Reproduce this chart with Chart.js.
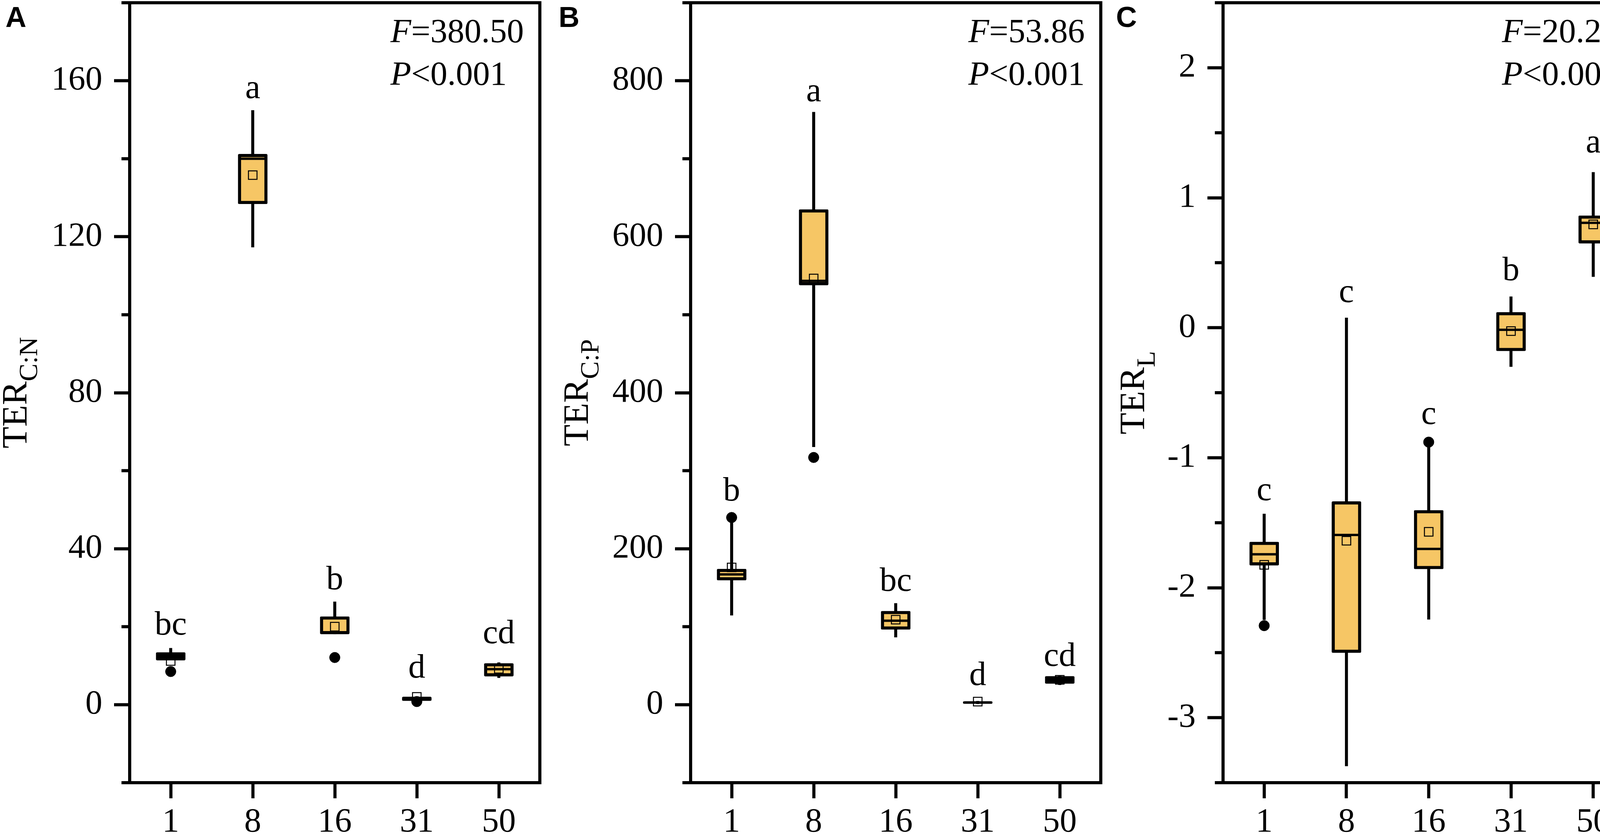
<!DOCTYPE html>
<html>
<head>
<meta charset="utf-8">
<script src="https://cdn.jsdelivr.net/npm/chart.js@4.4.1/dist/chart.umd.min.js"></script>
<style>
  html, body { margin: 0; padding: 0; background: #ffffff; }
  #wrap { position: relative; width: 4191px; height: 2142px; background: #ffffff; overflow: hidden; }
  #wrap canvas { position: absolute; top: 0; }
</style>
</head>
<body>
<div id="wrap">
  <canvas id="cA" width="1400" height="2142" style="left:0px"></canvas>
  <canvas id="cB" width="1430" height="2142" style="left:1400px"></canvas>
  <canvas id="cC" width="1361" height="2142" style="left:2830px"></canvas>
</div>
<script>
// ---------------- data ----------------
const categories = ['1', '8', '16', '31', '50'];

// Panel A : TER C:N
const cnMin     = [11.4, 117.3, 18.1, 1.0, 6.9];
const cnQ1      = [11.4, 128.4, 18.1, 1.0, 7.3];
const cnMedian  = [12.4, 140.0, 18.5, 1.5, 9.1];
const cnQ3      = [13.4, 141.2, 22.6, 2.0, 10.6];
const cnMax     = [14.5, 152.4, 26.4, 2.1, 10.8];
const cnMean    = [11.2, 135.8, 20.0, 2.0, 9.2];
const cnOutlier = [8.5, null, 12.1, 0.8, null];
const cnLetters = ['bc', 'a', 'b', 'd', 'cd'];
const cnLetterY = [18.0, 155.6, 29.6, 7.0, 15.8];
const cnTicks   = [0, 40, 80, 120, 160];
const cnMinor   = [-20, 20, 60, 100, 140, 180];
const cnStats   = ['=380.50', '<0.001'];

// Panel B : TER C:P
const cpMin     = [114.6, 330.5, 86.5, 1.0, 25.4];
const cpQ1      = [159.6, 537.9, 96.4, 1.3, 27.0];
const cpMedian  = [167.0, 543.4, 107.7, 2.8, 31.5];
const cpQ3      = [174.0, 634.9, 120.0, 4.3, 36.5];
const cpMax     = [236.0, 759.8, 130.0, 4.6, 37.5];
const cpMean    = [176.0, 546.5, 109.0, 4.0, 31.9];
const cpOutlier = [240.0, 317.0, null, null, null];
const cpLetters = ['b', 'a', 'bc', 'd', 'cd'];
const cpLetterY = [261.6, 773.8, 146.0, 25.2, 50.0];
const cpTicks   = [0, 200, 400, 600, 800];
const cpMinor   = [-100, 100, 300, 500, 700, 900];
const cpStats   = ['=53.86', '<0.001'];

// Panel C : TER L
const lMin      = [-2.247, -3.372, -2.244, -0.300, 0.392];
const lQ1       = [-1.828, -2.500, -1.856, -0.179, 0.649];
const lMedian   = [-1.743, -1.594, -1.702, -0.016, 0.807];
const lQ3       = [-1.648, -1.337, -1.404, 0.119, 0.862];
const lMax      = [-1.432, 0.076, -0.917, 0.239, 1.196];
const lMean     = [-1.824, -1.639, -1.570, -0.026, 0.795];
const lOutlier  = [-2.292, null, -0.880, null, null];
const lLetters  = ['c', 'c', 'c', 'b', 'a'];
const lLetterY  = [-1.326, 0.197, -0.739, 0.365, 1.348];
const lTicks    = [-3, -2, -1, 0, 1, 2];
const lMinor    = [-3.5, -2.5, -1.5, -0.5, 0.5, 1.5, 2.5];
const lStats    = ['=20.28', '<0.001'];

// ---------------- style ----------------
const FILL = '#F6C665';
const SERIF = '"Liberation Serif", "Times New Roman", serif';
const FS = 87;
const LW = 8;

function panelPlugin(p) {
  return {
    id: 'panelDeco' + p.letter,
    afterDraw(chart) {
      const ctx = chart.ctx;
      const a = chart.chartArea;
      const x = chart.scales.x, y = chart.scales.y;
      ctx.save();
      // frame
      ctx.strokeStyle = '#000';
      ctx.lineWidth = LW;
      ctx.strokeRect(a.left, a.top, a.right - a.left, a.bottom - a.top);
      // minor ticks
      ctx.beginPath();
      p.minor.forEach(v => {
        const py = y.getPixelForValue(v);
        ctx.moveTo(a.left - 21, py);
        ctx.lineTo(a.left, py);
      });
      ctx.stroke();
      // significance letters
      ctx.fillStyle = '#000';
      ctx.font = FS + 'px ' + SERIF;
      ctx.textAlign = 'center';
      ctx.textBaseline = 'alphabetic';
      p.letters.forEach((t, i) => {
        ctx.fillText(t, x.getPixelForValue(i), y.getPixelForValue(p.letterY[i]));
      });
      // F / P statistics
      ctx.textAlign = 'left';
      const itFont = 'italic ' + FS + 'px ' + SERIF;
      const rmFont = FS + 'px ' + SERIF;
      ctx.font = itFont; const wF = ctx.measureText('F').width;
      ctx.font = rmFont; const wFv = ctx.measureText(p.stats[0]).width;
      const left = a.right - 41 - (wF + wFv);
      ctx.font = itFont; ctx.fillText('F', left, 108);
      ctx.font = rmFont; ctx.fillText(p.stats[0], left + wF, 108);
      ctx.font = itFont; ctx.fillText('P', left, 217);
      const wP = ctx.measureText('P').width;
      ctx.font = rmFont; ctx.fillText(p.stats[1], left + wP, 217);
      // y axis title with subscript (rotated)
      const mainFont = '91px ' + SERIF;
      const subFont = '68px ' + SERIF;
      ctx.font = mainFont; const wMain = ctx.measureText('TER').width;
      ctx.font = subFont; const wSub = ctx.measureText(p.sub).width;
      const tot = wMain + wSub;
      ctx.translate(a.left - p.titleGap, (a.top + a.bottom) / 2);
      ctx.rotate(-Math.PI / 2);
      ctx.font = mainFont;
      ctx.fillText('TER', -tot / 2, 0);
      ctx.font = subFont;
      ctx.fillText(p.sub, -tot / 2 + wMain, 27);
      ctx.setTransform(1, 0, 0, 1, 0, 0);
      // panel letter
      ctx.font = 'bold 74px "Liberation Sans", Arial, sans-serif';
      ctx.textAlign = 'left';
      ctx.fillText(p.letter, p.letterX, 69);
      ctx.restore();
    }
  };
}

function makeChart(id, p) {
  const datasets = [
    { type: 'bar', label: 'whisker', data: categories.map((_, i) => [p.min[i], p.max[i]]),
      backgroundColor: '#000', borderWidth: 0, barThickness: 7, grouped: false, order: 5 },
    { type: 'bar', label: 'box', data: categories.map((_, i) => [p.q1[i], p.q3[i]]),
      backgroundColor: FILL, borderColor: '#000', borderWidth: 8, borderSkipped: false,
      borderRadius: 3, barThickness: 75, grouped: false, order: 4 },
    { type: 'line', label: 'median', data: p.median, showLine: false, pointStyle: 'line',
      pointRadius: 34, pointBorderWidth: 6, pointBorderColor: '#000', pointHoverRadius: 34, order: 3 },
    { type: 'line', label: 'mean', data: p.mean, showLine: false, pointStyle: 'rect',
      pointRadius: 15.5, pointBorderWidth: 2.5, pointBorderColor: '#000',
      pointBackgroundColor: 'rgba(0,0,0,0)', order: 2 },
    { type: 'line', label: 'outlier', data: p.outlier, showLine: false, pointStyle: 'circle',
      pointRadius: 13.5, pointBorderWidth: 1, pointBorderColor: '#000',
      pointBackgroundColor: '#000', spanGaps: false, order: 1 }
  ];
  return new Chart(document.getElementById(id), {
    type: 'bar',
    data: { labels: categories, datasets },
    plugins: [panelPlugin(p)],
    options: {
      responsive: false,
      animation: false,
      devicePixelRatio: 1,
      layout: { autoPadding: false, padding: { left: 0, right: p.padRight, top: 7, bottom: 0 } },
      plugins: { legend: { display: false }, tooltip: { enabled: false } },
      scales: {
        x: {
          type: 'category', offset: true,
          grid: { display: true, offset: false, drawOnChartArea: false, drawTicks: true,
                  tickLength: 40, tickWidth: LW, tickColor: '#000' },
          border: { display: true, width: LW, color: '#000' },
          ticks: { color: '#000', font: { family: SERIF, size: FS }, padding: 10,
                   maxRotation: 0, autoSkip: false },
          afterFit: s => { s.height = 139; s.paddingLeft = 0; s.paddingRight = 0; s.paddingTop = 0; s.paddingBottom = 0; }
        },
        y: {
          type: 'linear', min: p.yMin, max: p.yMax,
          afterBuildTicks: s => { s.ticks = p.ticks.map(v => ({ value: v })); },
          grid: { display: true, drawOnChartArea: false, drawTicks: true,
                  tickLength: 40, tickWidth: LW, tickColor: '#000' },
          border: { display: true, width: LW, color: '#000' },
          ticks: { color: '#000', font: { family: SERIF, size: FS }, padding: 30,
                   callback: v => String(v) },
          afterFit: s => { s.width = p.yWidth; s.paddingLeft = 0; s.paddingRight = 0; s.paddingTop = 0; s.paddingBottom = 0; }
        }
      }
    }
  });
}

makeChart('cA', {
  letter: 'A', letterX: 14, sub: 'C:N', titleGap: 264, yWidth: 332, padRight: 18,
  yMin: -20, yMax: 180, ticks: cnTicks, minor: cnMinor,
  min: cnMin, q1: cnQ1, median: cnMedian, q3: cnQ3, max: cnMax, mean: cnMean, outlier: cnOutlier,
  letters: cnLetters, letterY: cnLetterY, stats: cnStats
});
makeChart('cB', {
  letter: 'B', letterX: 30, sub: 'C:P', titleGap: 263, yWidth: 368, padRight: 12,
  yMin: -100, yMax: 900, ticks: cpTicks, minor: cpMinor,
  min: cpMin, q1: cpQ1, median: cpMedian, q3: cpQ3, max: cpMax, mean: cpMean, outlier: cpOutlier,
  letters: cpLetters, letterY: cpLetterY, stats: cpStats
});
makeChart('cC', {
  letter: 'C', letterX: 27, sub: 'L', titleGap: 202, yWidth: 301, padRight: 7,
  yMin: -3.5, yMax: 2.5, ticks: lTicks, minor: lMinor,
  min: lMin, q1: lQ1, median: lMedian, q3: lQ3, max: lMax, mean: lMean, outlier: lOutlier,
  letters: lLetters, letterY: lLetterY, stats: lStats
});
</script>
</body>
</html>
